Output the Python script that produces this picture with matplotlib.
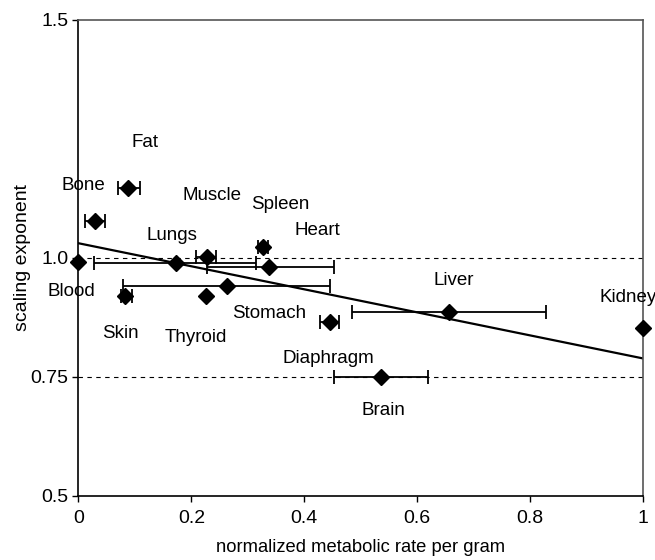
import matplotlib
matplotlib.use("Agg")
import matplotlib.pyplot as plt

plt.rcParams['font.family'] = ['Liberation Sans', 'DejaVu Sans']

# data points: x = normalized metabolic rate per gram, y = scaling exponent
pt_x = [1.0, 0.656, 0.536, 0.4455, 0.3375, 0.263, 0.326, 0.227, 0.172, 0.226, 0.0824, 0.0, 0.088, 0.029]
pt_y = [0.853, 0.887, 0.749, 0.865, 0.981, 0.941, 1.024, 1.003, 0.99, 0.92, 0.92, 0.991, 1.148, 1.078]
err_lo = [1.0, 0.485, 0.452, 0.428, 0.228, 0.079, 0.318, 0.209, 0.028, 0.226, 0.075, 0.0, 0.0705, 0.0115]
err_hi = [1.0, 0.828, 0.620, 0.461, 0.453, 0.4455, 0.336, 0.2436, 0.314, 0.226, 0.094, 0.0, 0.109, 0.047]

# organ labels and their positions
labels = ["Fat", "Bone", "Muscle", "Spleen", "Heart", "Lungs", "Blood", "Skin",
          "Thyroid", "Stomach", "Diaphragm", "Liver", "Kidney", "Brain"]
label_x = [0.118, 0.009, 0.236, 0.358, 0.4225, 0.166, -0.013, 0.0735,
           0.208, 0.3375, 0.442, 0.665, 0.973, 0.540]
label_y = [1.242, 1.153, 1.132, 1.113, 1.057, 1.048, 0.929, 0.842,
           0.832, 0.884, 0.788, 0.952, 0.917, 0.679]

# fitted line endpoints
fit_x = [0.0, 1.0]
fit_y = [1.031, 0.789]

# reference levels
ref_levels = [1.0, 0.75]

fig = plt.figure(figsize=(6.55, 5.6), dpi=100)
ax = fig.add_axes([0.1198, 0.1143, 0.8619, 0.85])

for lv in ref_levels:
    ax.axhline(lv, color='black', lw=0.8, ls=(0, (4, 4)), zorder=1)

ax.plot(fit_x, fit_y, color='black', lw=1.6, zorder=2)

xerr_minus = [x - lo for x, lo in zip(pt_x, err_lo)]
xerr_plus = [hi - x for x, hi in zip(pt_x, err_hi)]
ax.errorbar(pt_x, pt_y, xerr=[xerr_minus, xerr_plus], fmt='D', color='black',
            ms=8, ecolor='black', elinewidth=1.3, capsize=5, capthick=1.3,
            zorder=3, clip_on=False)

for t, x, y in zip(labels, label_x, label_y):
    ax.text(x, y, t, ha='center', va='center', fontsize=13.5)

ax.set_xlim(0, 1)
ax.set_ylim(0.5, 1.5)
ax.set_xticks([0, 0.2, 0.4, 0.6, 0.8, 1.0])
ax.set_xticklabels(["0", "0.2", "0.4", "0.6", "0.8", "1"])
ax.set_yticks([0.5, 0.75, 1.0, 1.5])
ax.set_yticklabels(["0.5", "0.75", "1.0", "1.5"])
ax.tick_params(direction='out', length=4, width=1, labelsize=14)
ax.tick_params(axis='y', pad=3)
ax.tick_params(axis='x', pad=6)

for s in ['left', 'bottom']:
    ax.spines[s].set_color('black')
    ax.spines[s].set_linewidth(1.2)
for s in ['top', 'right']:
    ax.spines[s].set_color('#555555')
    ax.spines[s].set_linewidth(1.2)

ax.set_xlabel("normalized metabolic rate per gram", fontsize=13.2, labelpad=9)
ax.set_ylabel("scaling exponent", fontsize=14, labelpad=0)

fig.savefig("out.png", dpi=100)
